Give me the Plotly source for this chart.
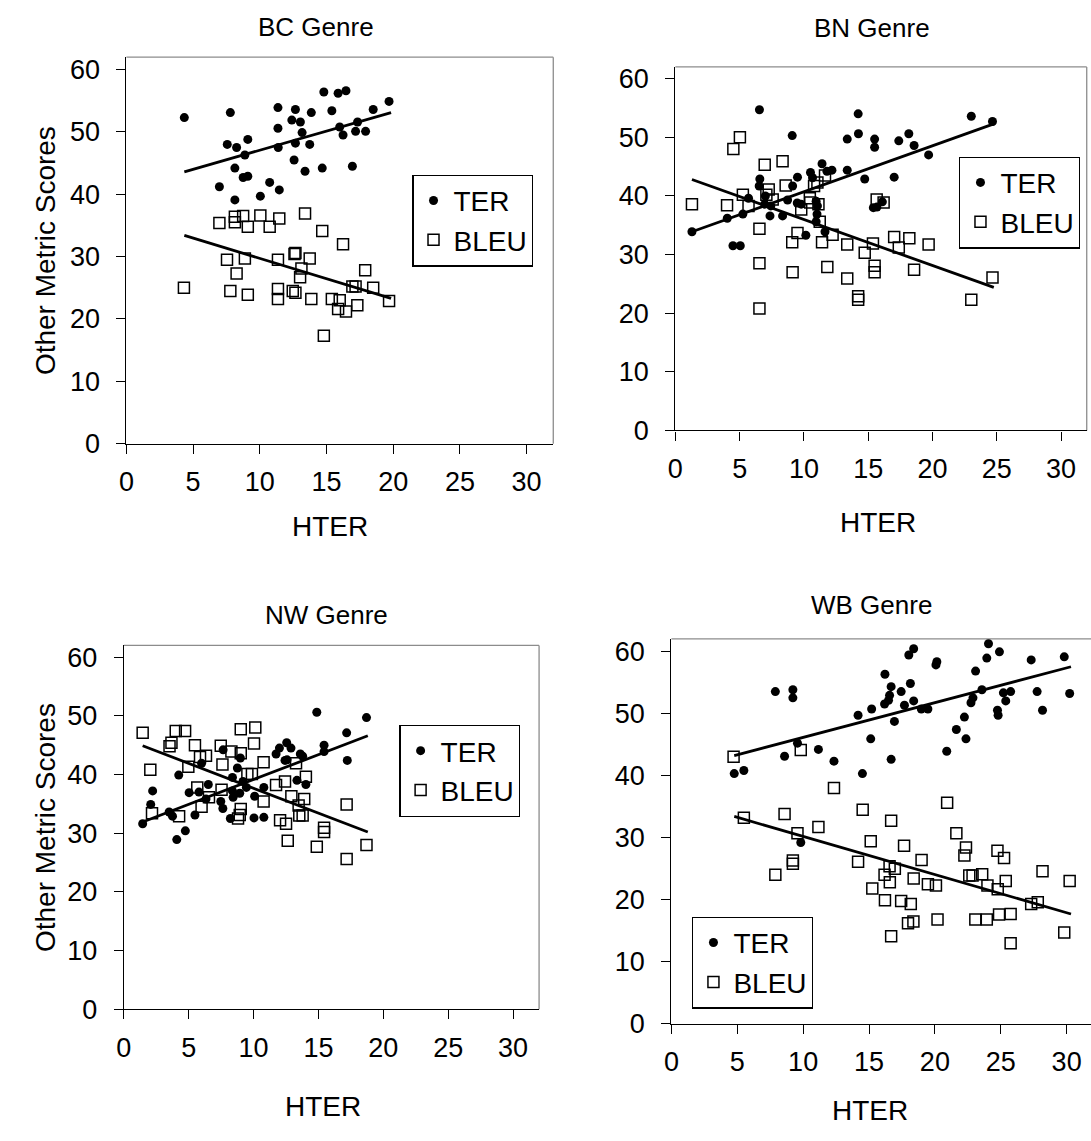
import plotly.graph_objects as go

W, H = 1091, 1141
FONT = "Liberation Sans, Arial, sans-serif"

# ---------------- data ----------------
bc_ter_x = [4.34, 7.79, 11.36, 12.67, 13.86, 14.8, 15.87, 16.46, 15.4, 18.5, 19.69, 12.4, 13.04, 11.36,
            13.17, 15.99, 17.33, 17.18, 17.93, 16.24, 7.56, 8.26, 9.1, 11.38, 12.67, 13.74, 8.88, 8.13,
            12.57, 13.39, 14.68, 16.94, 8.75, 9.1, 6.97, 10.74, 11.46, 10.04, 8.13]
bc_ter_y = [52.3, 53.1, 53.9, 53.6, 53.1, 56.4, 56.2, 56.6, 53.4, 53.6, 54.9, 51.9, 51.6, 50.6,
            49.9, 50.8, 51.6, 50.1, 50.1, 49.5, 48.0, 47.5, 48.8, 47.5, 48.2, 48.0, 46.3, 44.2,
            45.5, 43.7, 44.2, 44.5, 42.7, 42.9, 41.2, 41.9, 40.7, 39.7, 39.1]
bc_bleu_x = [4.31, 6.97, 8.13, 8.13, 8.75, 9.1, 10.04, 10.74, 11.46, 13.39, 14.68, 16.24, 7.54, 8.88,
             11.36, 12.6, 12.67, 13.74, 13.12, 13.02, 8.26, 17.9, 7.79, 9.1, 11.36, 11.36, 12.47, 12.67,
             13.86, 15.4, 15.99, 15.87, 16.46, 16.94, 17.18, 17.31, 18.5, 19.69, 14.8]
bc_bleu_y = [25.0, 35.4, 36.4, 35.5, 36.5, 34.8, 36.6, 34.8, 36.1, 36.9, 34.1, 32.0, 29.5, 29.7,
             29.5, 30.4, 30.6, 29.7, 28.1, 26.7, 27.3, 27.8, 24.5, 23.9, 24.8, 23.2, 24.5, 24.2,
             23.2, 23.2, 23.0, 21.6, 21.2, 25.2, 25.2, 22.2, 25.0, 22.9, 17.3]
bc_ter_trend_x = [4.34, 19.84]
bc_ter_trend_y = [43.6, 53.1]
bc_bleu_trend_x = [4.34, 19.84]
bc_bleu_trend_y = [33.4, 23.3]

bn_ter_x = [1.29, 4.04, 4.48, 5.05, 5.25, 5.69, 6.54, 6.57, 6.52, 7.0, 6.95, 7.42, 7.36, 8.34, 8.73,
            9.09, 9.12, 9.5, 9.48, 9.79, 10.15, 10.51, 10.67, 10.95, 11.05, 11.02, 10.95, 11.41, 11.79,
            12.18, 11.64, 13.37, 13.37, 14.22, 14.24, 14.73, 15.5, 15.5, 15.4, 15.68, 16.1, 17.02,
            17.38, 18.16, 18.57, 19.7, 23.02, 24.67]
bn_ter_y = [33.9, 36.2, 31.5, 31.5, 36.9, 39.6, 54.7, 42.9, 41.7, 40.0, 38.6, 38.3, 36.6, 36.6, 39.3,
            50.3, 41.7, 43.2, 38.8, 38.6, 33.3, 44.0, 43.1, 39.1, 38.3, 36.9, 35.6, 45.5, 44.2,
            44.4, 33.9, 49.7, 44.4, 54.0, 50.6, 42.9, 49.7, 48.3, 38.0, 38.1, 39.0, 43.2,
            49.4, 50.6, 48.6, 47.0, 53.6, 52.7]
bn_bleu_x = [1.29, 4.02, 4.51, 5.02, 5.25, 5.69, 6.54, 6.54, 6.54, 6.95, 7.26, 7.08, 7.57, 8.34, 8.58,
             9.09, 9.12, 9.5, 9.79, 10.49, 10.46, 11.13, 10.79, 11.05, 11.64, 11.23, 11.41, 11.82,
             12.23, 13.37, 13.37, 14.22, 14.22, 14.73, 15.37, 15.5, 15.5, 15.66, 16.2, 17.02, 17.38,
             18.2, 18.57, 19.7, 23.02, 24.67]
bn_bleu_y = [38.6, 38.4, 48.0, 50.0, 40.2, 38.3, 34.4, 28.5, 20.8, 45.3, 41.1, 40.2, 39.4, 45.9, 41.8,
             32.1, 27.0, 33.7, 37.7, 38.9, 39.6, 38.6, 41.7, 42.3, 43.5, 35.6, 32.1, 27.9,
             33.4, 31.7, 25.9, 22.9, 22.3, 30.3, 31.9, 28.1, 27.0, 39.4, 38.9, 33.0, 31.2,
             32.8, 27.4, 31.7, 22.3, 26.1]
bn_ter_trend_x = [1.29, 24.77]
bn_ter_trend_y = [33.9, 52.3]
bn_bleu_trend_x = [1.29, 24.77]
bn_bleu_trend_y = [42.8, 24.4]

nw_ter_x = [1.45, 2.07, 2.22, 3.49, 3.75, 4.08, 4.74, 4.23, 5.03, 5.48, 5.79, 5.99, 6.51, 6.33, 7.47,
            7.63, 7.65, 8.37, 8.21, 8.42, 8.75, 8.98, 8.93, 8.37, 9.18, 9.44, 10.03, 10.08, 10.79,
            10.79, 11.73, 11.99, 12.55, 12.88, 12.42, 12.58, 13.34, 13.6, 13.78, 14.03, 14.87, 15.43,
            15.43, 17.17, 17.22, 18.7]
nw_ter_y = [31.6, 34.9, 37.2, 33.6, 32.9, 28.9, 30.4, 39.9, 36.9, 33.1, 37.0, 41.9, 38.3, 35.8, 35.4,
            34.2, 44.2, 39.5, 32.5, 36.1, 41.1, 42.8, 36.8, 37.2, 38.8, 37.8, 32.6, 36.3, 32.7,
            37.8, 43.5, 44.5, 45.4, 44.5, 42.4, 42.5, 39.0, 43.5, 43.1, 38.3, 50.6, 45.0,
            43.9, 47.1, 42.4, 49.7]
nw_bleu_x = [1.45, 2.04, 2.17, 3.52, 3.67, 4.0, 4.72, 4.26, 4.97, 5.48, 5.87, 6.33, 5.66, 5.99, 6.56,
             7.47, 7.6, 8.29, 9.01, 9.01, 10.13, 10.03, 9.52, 9.87, 7.53, 8.8, 8.93, 9.01, 10.77,
             10.77, 11.73, 12.42, 12.91, 13.27, 13.47, 13.52, 13.78, 13.9, 14.03, 12.04, 12.5, 12.63,
             14.87, 15.43, 15.43, 17.17, 17.17, 18.7]
nw_bleu_y = [47.1, 40.8, 33.4, 44.8, 45.4, 47.4, 47.4, 32.9, 41.3, 45.0, 43.0, 43.2, 37.8, 34.5, 36.1,
             44.9, 41.7, 43.9, 43.6, 47.7, 48.0, 45.3, 40.1, 40.1, 37.4, 32.5, 33.1, 34.1, 42.1,
             35.4, 38.2, 38.8, 36.3, 41.9, 34.7, 33.0, 33.0, 35.8, 39.6, 32.2, 31.6, 28.7,
             27.7, 30.9, 30.2, 34.9, 25.6, 28.0]
nw_ter_trend_x = [1.45, 18.8]
nw_ter_trend_y = [31.9, 46.6]
nw_bleu_trend_x = [1.45, 18.8]
nw_bleu_trend_y = [44.9, 30.2]

wb_ter_x = [4.77, 5.5, 7.89, 8.59, 9.22, 9.22, 9.57, 9.82, 11.16, 12.34, 14.17, 14.5, 15.2, 15.13,
            16.21, 16.68, 16.56, 16.48, 16.18, 16.93, 16.68, 17.44, 17.69, 18.14, 18.02, 18.39, 18.39,
            18.97, 19.47, 20.08, 20.15, 20.9, 21.63, 22.24, 22.36, 22.74, 22.89, 23.09, 23.57, 23.94,
            24.07, 24.9, 24.75, 24.8, 25.2, 25.38, 25.75, 27.31, 27.76, 28.17, 29.82, 30.23]
wb_ter_y = [40.3, 40.8, 53.5, 43.1, 53.8, 52.5, 45.2, 29.2, 44.2, 42.3, 49.7, 40.3, 50.7, 45.9,
            56.3, 54.3, 52.9, 52.1, 51.5, 48.7, 42.6, 53.5, 51.3, 54.8, 59.4, 60.4, 52.0,
            50.7, 50.7, 57.8, 58.3, 43.9, 47.4, 49.4, 45.9, 51.7, 52.5, 56.8, 53.8, 58.9,
            61.2, 59.9, 50.5, 49.7, 53.3, 52.0, 53.5, 58.6, 53.5, 50.5, 59.1, 53.2]
wb_bleu_x = [4.72, 5.5, 9.82, 7.89, 8.59, 9.22, 9.22, 9.57, 11.16, 12.34, 14.17, 14.52, 15.13, 15.25,
             16.21, 16.18, 16.56, 16.68, 16.58, 16.96, 17.44, 17.66, 17.96, 18.17, 18.39, 18.37, 16.68,
             18.99, 19.47, 20.08, 20.2, 20.93, 21.63, 22.36, 22.24, 22.61, 22.86, 23.07, 23.59, 23.94,
             23.99, 24.75, 25.25, 24.77, 25.38, 24.87, 25.75, 25.75, 27.31, 27.81, 28.17, 29.82, 30.23]
wb_bleu_y = [43.0, 33.2, 44.1, 24.0, 33.8, 26.3, 25.8, 30.7, 31.7, 38.0, 26.1, 34.5, 29.4, 21.8,
             19.9, 24.0, 25.4, 32.7, 22.8, 25.0, 19.8, 28.7, 16.2, 19.3, 23.4, 16.5, 14.1,
             26.4, 22.5, 22.3, 16.8, 35.6, 30.7, 28.4, 27.1, 23.9, 23.9, 16.8, 24.1, 16.8,
             22.3, 27.9, 26.7, 21.7, 23.0, 17.6, 17.7, 13.0, 19.3, 19.6, 24.6, 14.7, 23.0]
wb_ter_trend_x = [4.77, 30.33]
wb_ter_trend_y = [43.2, 57.5]
wb_bleu_trend_x = [4.77, 30.33]
wb_bleu_trend_y = [33.4, 17.7]

x_ticks = [0, 5, 10, 15, 20, 25, 30]
y_ticks = [0, 10, 20, 30, 40, 50, 60]
series_names = ["TER", "BLEU"]
panel_titles = ["BC Genre", "BN Genre", "NW Genre", "WB Genre"]

# ---------------- layout geometry (pixels) ----------------
panels = [
    dict(name="BC", ax="", l=119.3, r=549.3, t=55.0, b=447.7, xmax=32.0,
         ter=(bc_ter_x, bc_ter_y), bleu=(bc_bleu_x, bc_bleu_y),
         tt=(bc_ter_trend_x, bc_ter_trend_y), bt=(bc_bleu_trend_x, bc_bleu_trend_y),
         leg=(407.3, 174.3), title=(310, 24), xt=(324, 532), yt=(38, None), rightedge=True),
    dict(name="BN", ax="2", l=672.3, r=1086.7, t=65.0, b=434.3, xmax=32.0,
         ter=(bn_ter_x, bn_ter_y), bleu=(bn_bleu_x, bn_bleu_y),
         tt=(bn_ter_trend_x, bn_ter_trend_y), bt=(bn_bleu_trend_x, bn_bleu_trend_y),
         leg=(958.3, 156.0), title=(870.5, 25), xt=(876, 527.5), yt=None, rightedge=True),
    dict(name="NW", ax="3", l=116.7, r=535.0, t=652.7, b=1022.3, xmax=32.0,
         ter=(nw_ter_x, nw_ter_y), bleu=(nw_bleu_x, nw_bleu_y),
         tt=(nw_ter_trend_x, nw_ter_trend_y), bt=(nw_bleu_trend_x, nw_bleu_trend_y),
         leg=(394.3, 733.3), title=(321, 622), xt=(317.5, 1121), yt=(38, None), rightedge=True),
    dict(name="WB", ax="4", l=668.3, r=1091.0, t=646.0, b=1037.3, xmax=31.85,
         ter=(wb_ter_x, wb_ter_y), bleu=(wb_bleu_x, wb_bleu_y),
         tt=(wb_ter_trend_x, wb_ter_trend_y), bt=(wb_bleu_trend_x, wb_bleu_trend_y),
         leg=(689.3, 928.3), title=(870, 612), xt=(868.3, 1125), yt=None, rightedge=False),
]

def px(x):
    return x / W

def py(y):
    return 1 - y / H

fig = go.Figure()
layout = dict(
    width=W, height=H, margin=dict(l=0, r=0, t=0, b=0),
    paper_bgcolor="white", plot_bgcolor="white",
    font=dict(family=FONT, color="black", size=27),
    showlegend=True,
    annotations=[], shapes=[],
)

for i, p in enumerate(panels):
    ax = p["ax"]
    xa, ya = "x" + ax, "y" + ax
    legname = "legend" + ax
    fig.add_trace(go.Scatter(
        x=p["ter"][0], y=p["ter"][1], mode="markers", name=series_names[0],
        marker=dict(symbol="circle", size=9, color="black"),
        xaxis=xa, yaxis=ya, legend=legname, showlegend=True))
    fig.add_trace(go.Scatter(
        x=p["bleu"][0], y=p["bleu"][1], mode="markers", name=series_names[1],
        marker=dict(symbol="square-open", size=11, color="black", line=dict(width=1.5, color="black")),
        xaxis=xa, yaxis=ya, legend=legname, showlegend=True))
    for tr in (p["tt"], p["bt"]):
        fig.add_trace(go.Scatter(
            x=tr[0], y=tr[1], mode="lines", line=dict(color="black", width=2.8),
            xaxis=xa, yaxis=ya, showlegend=False, hoverinfo="skip"))

    common = dict(showgrid=False, zeroline=False, showline=True, linecolor="black", linewidth=1.2,
                  ticks="outside", ticklen=9, tickwidth=1, tickcolor="black",
                  tickfont=dict(family=FONT, size=27, color="black"))
    layout["xaxis" + ax] = dict(
        domain=[px(p["l"]), min(1.0, px(p["r"]))], range=[0, p["xmax"]],
        tickmode="array", tickvals=x_ticks, ticktext=[str(v) for v in x_ticks],
        anchor=ya, ticklabelstandoff=5, **common)
    layout["yaxis" + ax] = dict(
        domain=[py(p["b"]), py(p["t"])], range=[0, 62],
        tickmode="array", tickvals=y_ticks, ticktext=[str(v) for v in y_ticks],
        anchor=xa, ticklabelstandoff=11, **common)

    # gray plot-area border (top and right)
    layout["shapes"].append(dict(type="line", xref="paper", yref="paper",
                                 x0=px(p["l"]), x1=min(1.0, px(p["r"])), y0=py(p["t"]), y1=py(p["t"]),
                                 line=dict(color="#8c8c8c", width=1.3), layer="below"))
    if p["rightedge"]:
        layout["shapes"].append(dict(type="line", xref="paper", yref="paper",
                                     x0=px(p["r"]), x1=px(p["r"]), y0=py(p["t"]), y1=py(p["b"]),
                                     line=dict(color="#8c8c8c", width=1.3), layer="below"))

    # legend
    layout[legname] = dict(
        x=px(p["leg"][0]), y=py(p["leg"][1]), xanchor="left", yanchor="top",
        bordercolor="black", borderwidth=1.2, bgcolor="white",
        font=dict(family=FONT, size=28, color="black"),
        itemsizing="trace", tracegroupgap=0)

    # title
    layout["annotations"].append(dict(
        text=panel_titles[i], x=px(p["title"][0]), y=py(p["title"][1]), xref="paper", yref="paper",
        showarrow=False, xanchor="center", yanchor="middle",
        font=dict(family=FONT, size=26, color="black")))
    # x axis title
    layout["annotations"].append(dict(
        text="HTER", x=px(p["xt"][0]), y=py(p["xt"][1]), xref="paper", yref="paper",
        showarrow=False, xanchor="center", yanchor="middle",
        font=dict(family=FONT, size=28, color="black")))
    if p["yt"] is not None:
        layout["annotations"].append(dict(
            text="Other Metric Scores", x=px(p["yt"][0]), y=py((p["t"] + p["b"]) / 2),
            xref="paper", yref="paper", textangle=-90,
            showarrow=False, xanchor="center", yanchor="middle",
            font=dict(family=FONT, size=28, color="black")))

fig.update_layout(**layout)
fig.write_html("out.html")
